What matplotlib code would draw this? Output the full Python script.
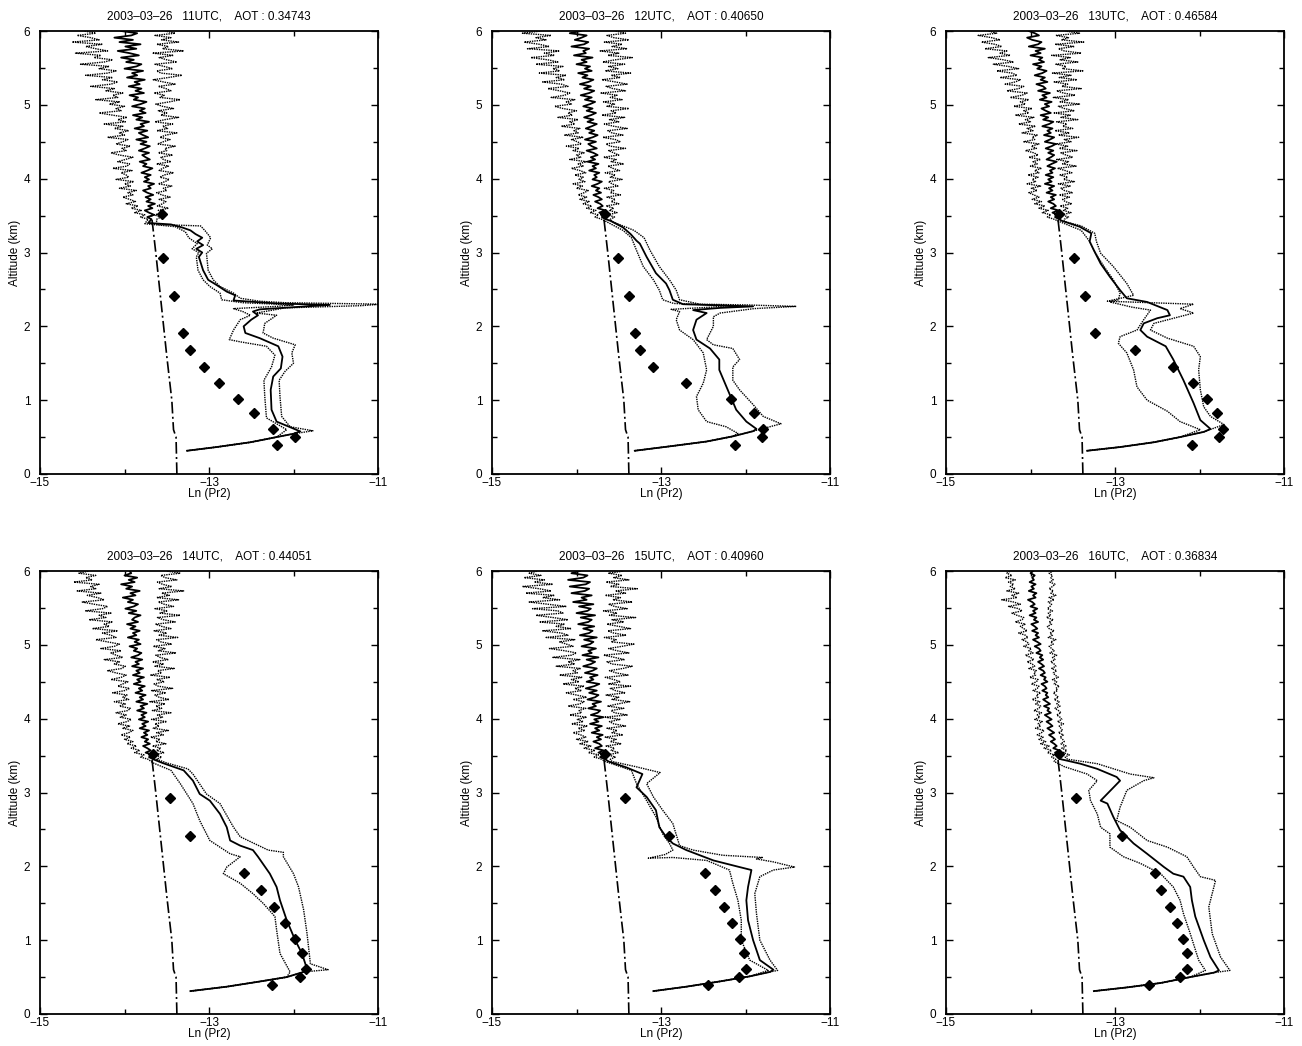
import numpy as np
import matplotlib
matplotlib.use("Agg")
import matplotlib.pyplot as plt
from matplotlib.ticker import FixedLocator, MultipleLocator

plt.rcParams['font.family'] = ['Liberation Sans', 'DejaVu Sans']

# ---------------- data ----------------
HOURS = ["11UTC", "12UTC", "13UTC", "14UTC", "15UTC", "16UTC"]
AOT = ["0.34743", "0.40650", "0.46584", "0.44051", "0.40960", "0.36834"]
DATE = "2003–03–26"

X_TICKS = [-15, -13, -11]
Y_TICKS = [0, 1, 2, 3, 4, 5, 6]

# molecular (Rayleigh) profile, dash-dot
MOL_Z = [0.0, 0.5, 0.6, 1.0, 1.6, 3.0, 3.5]
MOL_X = [-13.38, -13.39, -13.42, -13.44, -13.50, -13.63, -13.68]

# diamonds
DIAMOND_Z = [0.39, 0.50, 0.61, 0.82, 1.02, 1.23, 1.45, 1.68, 1.91, 2.41, 2.93, 3.52]
P1_DIAM = [-12.20, -11.98, -12.24, -12.47, -12.66, -12.88, -13.06, -13.22, -13.31, -13.41, -13.55, -13.56]
P2_DIAM = [-12.12, -11.81, -11.79, -11.90, -12.17, -12.70, -13.09, -13.25, -13.31, -13.38, -13.51, -13.66]
P3_DIAM = [-12.09, -11.77, -11.72, -11.79, -11.91, -12.08, -12.31, -12.76, -13.24, -13.36, -13.49, -13.66]
P4_DIAM = [-12.26, -11.92, -11.85, -11.90, -11.98, -12.10, -12.23, -12.38, -12.58, -13.23, -13.46, -13.66]
P5_DIAM = [-12.44, -12.08, -12.00, -12.02, -12.07, -12.16, -12.26, -12.36, -12.48, -12.90, -13.43, -13.66]
P6_DIAM = [-12.60, -12.23, -12.15, -12.15, -12.19, -12.27, -12.35, -12.45, -12.53, -12.92, -13.46, -13.66]

# near-ground overlap tail (alt, Ln Pr2)
P1_TAIL = [(0.315, -13.26), (0.365, -12.91), (0.43, -12.51), (0.50, -12.20), (0.545, -12.00)]
P2_TAIL = [(0.315, -13.31), (0.38, -12.86), (0.44, -12.46), (0.51, -12.15), (0.58, -11.91)]
P3_TAIL = [(0.315, -13.33), (0.365, -12.94), (0.43, -12.54), (0.50, -12.23), (0.57, -11.95)]
P4_TAIL = [(0.31, -13.22), (0.37, -12.79), (0.44, -12.40), (0.50, -12.08), (0.57, -11.88)]
P5_TAIL = [(0.31, -13.09), (0.37, -12.70), (0.44, -12.31), (0.51, -11.95), (0.57, -11.71)]
P6_TAIL = [(0.31, -13.25), (0.36, -12.86), (0.42, -12.46), (0.50, -12.11), (0.56, -11.83)]

# lower part (alt, Ln Pr2): C = mean (solid), L / R = dotted envelope
P1_C_LOW = [(0.577, -11.92), (0.71, -12.20), (0.87, -12.26), (1.14, -12.27), (1.32, -12.24), (1.43, -12.15),
            (1.59, -12.13), (1.73, -12.18), (1.84, -12.40), (1.91, -12.57), (2.00, -12.59), (2.09, -12.50),
            (2.15, -12.42), (2.20, -12.48), (2.23, -12.40), (2.27, -11.85), (2.29, -11.57), (2.31, -12.20),
            (2.35, -12.71), (2.42, -12.69), (2.47, -12.79), (2.56, -12.91), (2.63, -13.01), (2.76, -13.07),
            (2.94, -13.12), (3.00, -13.08), (3.05, -13.15), (3.10, -13.07), (3.15, -13.14), (3.20, -13.08),
            (3.25, -13.16), (3.30, -13.22), (3.34, -13.32), (3.38, -13.45), (3.40, -13.72)]
P1_L_LOW = [(0.60, -12.08), (0.76, -12.32), (1.05, -12.34), (1.27, -12.35), (1.45, -12.26), (1.61, -12.22),
            (1.73, -12.32), (1.79, -12.63), (1.82, -12.76), (1.95, -12.71), (2.09, -12.63), (2.15, -12.51),
            (2.20, -12.60), (2.24, -12.71), (2.27, -12.20), (2.29, -12.00), (2.32, -12.60), (2.36, -12.85),
            (2.45, -12.87), (2.54, -12.99), (2.63, -13.07), (2.76, -13.13), (2.94, -13.15), (3.00, -13.12),
            (3.05, -13.20), (3.12, -13.14), (3.20, -13.24), (3.28, -13.28), (3.35, -13.40), (3.39, -13.76)]
P1_R_LOW = [(0.585, -11.77), (0.64, -12.04), (0.78, -12.14), (1.05, -12.16), (1.27, -12.17), (1.39, -12.10),
            (1.50, -12.00), (1.64, -12.02), (1.75, -11.98), (1.84, -12.24), (1.91, -12.36), (2.04, -12.34),
            (2.15, -12.20), (2.18, -12.44), (2.25, -12.10), (2.28, -11.20), (2.30, -10.95), (2.32, -12.10),
            (2.34, -12.40), (2.38, -12.63), (2.45, -12.71), (2.54, -12.87), (2.63, -12.95), (2.76, -13.01),
            (2.99, -13.03), (3.05, -12.96), (3.10, -13.02), (3.20, -12.98), (3.30, -13.05), (3.36, -13.10),
            (3.38, -13.62)]

P2_C_LOW = [(0.61, -11.87), (0.71, -11.99), (0.87, -12.11), (1.14, -12.21), (1.41, -12.31), (1.55, -12.31),
            (1.70, -12.42), (1.82, -12.58), (1.95, -12.62), (2.09, -12.58), (2.18, -12.46), (2.22, -12.62),
            (2.25, -12.30), (2.27, -11.91), (2.30, -12.74), (2.36, -12.86), (2.49, -12.90), (2.58, -12.94),
            (2.72, -13.06), (2.94, -13.17), (3.12, -13.25), (3.16, -13.29), (3.25, -13.36), (3.34, -13.45),
            (3.43, -13.60)]
P2_L_LOW = [(0.55, -12.09), (0.64, -12.23), (0.71, -12.46), (0.87, -12.56), (1.05, -12.58), (1.23, -12.50),
            (1.41, -12.46), (1.64, -12.50), (1.82, -12.62), (1.95, -12.78), (2.09, -12.82), (2.20, -12.78),
            (2.23, -12.88), (2.26, -12.40), (2.28, -12.20), (2.31, -12.85), (2.36, -12.98), (2.49, -13.02),
            (2.63, -13.09), (2.81, -13.21), (3.03, -13.29), (3.20, -13.35), (3.30, -13.45), (3.42, -13.65)]
P2_R_LOW = [(0.68, -11.58), (0.78, -11.79), (0.94, -11.91), (1.14, -12.07), (1.27, -12.15), (1.45, -12.15),
            (1.55, -12.07), (1.70, -12.15), (1.75, -12.38), (1.82, -12.46), (2.00, -12.38), (2.13, -12.38),
            (2.18, -12.30), (2.24, -11.90), (2.27, -11.40), (2.29, -12.00), (2.30, -12.54), (2.36, -12.78),
            (2.49, -12.82), (2.63, -12.90), (2.81, -13.02), (3.03, -13.13), (3.20, -13.20), (3.30, -13.32),
            (3.42, -13.58)]

P3_C_LOW = [(0.61, -11.87), (0.73, -11.99), (0.96, -12.07), (1.27, -12.19), (1.55, -12.31), (1.73, -12.40),
            (1.86, -12.62), (1.95, -12.70), (2.04, -12.66), (2.11, -12.50), (2.15, -12.35), (2.22, -12.38),
            (2.33, -12.62), (2.38, -12.86), (2.49, -12.94), (2.67, -13.06), (2.85, -13.17), (3.03, -13.25),
            (3.15, -13.30), (3.26, -13.28), (3.35, -13.42), (3.43, -13.63)]
P3_L_LOW = [(0.60, -11.99), (0.71, -12.23), (0.85, -12.38), (1.00, -12.62), (1.18, -12.74), (1.41, -12.78),
            (1.64, -12.86), (1.77, -12.96), (1.86, -12.94), (1.95, -12.74), (2.09, -12.66), (2.22, -12.58),
            (2.26, -12.80), (2.33, -13.06), (2.36, -12.96), (2.45, -12.94), (2.63, -13.02), (2.81, -13.13),
            (2.99, -13.23), (3.15, -13.30), (3.30, -13.40), (3.42, -13.66)]
P3_R_LOW = [(0.67, -11.71), (0.78, -11.87), (0.91, -11.95), (1.14, -11.99), (1.41, -12.01), (1.59, -11.99),
            (1.73, -12.07), (1.84, -12.38), (1.95, -12.58), (2.04, -12.54), (2.18, -12.07), (2.24, -12.23),
            (2.30, -12.07), (2.34, -13.09), (2.42, -12.78), (2.58, -12.86), (2.81, -13.02), (2.99, -13.17),
            (3.15, -13.22), (3.26, -13.24), (3.36, -13.40), (3.42, -13.60)]

P4_C_LOW = [(0.61, -11.84), (0.82, -11.90), (1.00, -11.98), (1.27, -12.08), (1.54, -12.16), (1.72, -12.20),
            (1.90, -12.28), (2.13, -12.42), (2.22, -12.48), (2.28, -12.63), (2.35, -12.75), (2.53, -12.79),
            (2.71, -12.87), (2.89, -12.99), (2.98, -13.11), (3.16, -13.19), (3.30, -13.30), (3.40, -13.55)]
P4_L_LOW = [(0.57, -12.04), (0.82, -12.16), (1.14, -12.20), (1.32, -12.22), (1.50, -12.36), (1.63, -12.48),
            (1.77, -12.63), (1.90, -12.83), (1.99, -12.79), (2.13, -12.63), (2.17, -12.75), (2.35, -12.99),
            (2.62, -13.11), (2.85, -13.19), (3.12, -13.34), (3.30, -13.45), (3.40, -13.66)]
P4_R_LOW = [(0.60, -11.59), (0.68, -11.80), (1.09, -11.84), (1.41, -11.88), (1.72, -11.94), (1.90, -12.00),
            (2.13, -12.12), (2.19, -12.12), (2.22, -12.30), (2.40, -12.63), (2.53, -12.71), (2.85, -12.87),
            (2.98, -13.03), (3.25, -13.19), (3.32, -13.25), (3.40, -13.50)]

P5_C_LOW = [(0.60, -11.67), (0.73, -11.83), (1.00, -11.91), (1.27, -11.97), (1.54, -11.99), (1.72, -11.97),
            (1.95, -11.93), (1.99, -12.07), (2.08, -12.38), (2.22, -12.70), (2.31, -12.86), (2.40, -12.94),
            (2.53, -13.02), (2.76, -13.06), (2.94, -13.17), (3.07, -13.29), (3.25, -13.22), (3.34, -13.41),
            (3.42, -13.62)]
P5_L_LOW = [(0.59, -11.73), (0.73, -11.95), (1.00, -12.05), (1.27, -12.05), (1.54, -12.09), (1.77, -12.15),
            (1.95, -12.19), (2.08, -12.46), (2.12, -12.86), (2.11, -13.15), (2.16, -12.95), (2.22, -12.86),
            (2.31, -12.90), (2.44, -12.98), (2.67, -13.06), (2.89, -13.17), (3.12, -13.29), (3.30, -13.35),
            (3.42, -13.66)]
P5_R_LOW = [(0.59, -11.62), (0.73, -11.71), (1.00, -11.83), (1.36, -11.87), (1.63, -11.89), (1.86, -11.83),
            (1.95, -11.67), (1.99, -11.42), (2.06, -11.67), (2.10, -11.87), (2.12, -11.80), (2.15, -12.27),
            (2.22, -12.62), (2.28, -12.78), (2.58, -12.86), (2.76, -12.98), (2.94, -13.09), (3.12, -13.17),
            (3.27, -13.01), (3.35, -13.30), (3.42, -13.58)]

P6_C_LOW = [(0.59, -11.77), (0.77, -11.87), (1.00, -11.95), (1.32, -12.05), (1.54, -12.09), (1.72, -12.11),
            (1.86, -12.19), (1.90, -12.31), (1.99, -12.42), (2.17, -12.62), (2.31, -12.78), (2.49, -12.94),
            (2.67, -13.02), (2.85, -13.09), (2.89, -13.17), (3.16, -12.94), (3.21, -12.98), (3.32, -13.21),
            (3.39, -13.41), (3.44, -13.60)]
P6_L_LOW = [(0.59, -11.93), (0.73, -12.01), (1.09, -12.11), (1.36, -12.19), (1.54, -12.23), (1.72, -12.31),
            (1.90, -12.46), (2.04, -12.70), (2.13, -12.90), (2.26, -13.06), (2.44, -13.06), (2.53, -13.17),
            (2.71, -13.21), (2.89, -13.29), (3.03, -13.31), (3.16, -13.21), (3.25, -13.33), (3.35, -13.60),
            (3.42, -13.72)]
P6_R_LOW = [(0.59, -11.64), (0.77, -11.75), (1.09, -11.85), (1.45, -11.89), (1.63, -11.85), (1.81, -11.81),
            (1.86, -11.99), (1.99, -12.07), (2.13, -12.15), (2.26, -12.38), (2.35, -12.62), (2.53, -12.82),
            (2.62, -12.98), (2.80, -12.94), (3.03, -12.86), (3.16, -12.66), (3.20, -12.54), (3.25, -12.82),
            (3.39, -13.21), (3.44, -13.50)]

# noisy upper part, sampled every 0.03 km from 3.45 to 6.00 km.
# values are Ln(Pr2) + 14, in hundredths
ALT_UP = np.round(3.45 + 0.03 * np.arange(86), 3)

P1_C_UP = [32, 27, 35, 29, 24, 33, 28, 36, 26, 31,
           25, 34, 27, 22, 31, 28, 35, 23, 29, 24,
           31, 20, 27, 33, 22, 26, 18, 30, 25, 21,
           29, 17, 24, 30, 19, 26, 14, 28, 22, 17,
           27, 12, 23, 19, 29, 14, 21, 10, 25, 18,
           24, 9, 19, 26, 11, 16, 6, 23, 13, 20,
           5, 18, 12, 24, 3, 15, 9, 22, 0, 14,
           20, 2, 11, -4, 17, 6, -8, 14, 1, 19,
           -6, 10, -12, 8, 15, -4]
P1_L_UP = [28, 19, 24, 12, 20, 8, 16, 2, 13, 6,
           -2, 10, 4, 14, -6, 7, 0, 11, -10, 5,
           2, -4, 9, -14, 3, 6, -8, 1, 10, -6,
           -16, 2, -3, 7, -10, -2, 4, -20, 0, -6,
           5, -12, -2, -24, 1, -8, 3, -14, -30, -4,
           -10, 0, -18, -6, -34, -8, -14, -2, -22, -12,
           -40, -16, -8, -26, -14, -46, -20, -10, -30, -18,
           -52, -24, -14, -36, -28, -58, -20, -34, -46, -26,
           -62, -30, -40, -56, -34, -48]
P1_R_UP = [38, 43, 35, 47, 40, 52, 39, 45, 49, 41,
           54, 44, 38, 50, 46, 56, 40, 48, 53, 42,
           47, 58, 41, 45, 52, 38, 55, 46, 43, 57,
           40, 50, 48, 60, 39, 46, 54, 42, 49, 62,
           38, 51, 45, 57, 36, 48, 64, 43, 50, 40,
           58, 45, 37, 53, 66, 42, 47, 35, 55, 49,
           40, 60, 46, 34, 52, 68, 43, 38, 57, 47,
           36, 62, 50, 41, 58, 33, 70, 45, 52, 38,
           64, 44, 55, 36, 60, 48]

P2_C_UP = [35, 30, 33, 27, 34, 25, 31, 28, 22, 30,
           26, 20, 29, 23, 27, 18, 25, 30, 19, 24,
           21, 27, 15, 23, 19, 26, 13, 22, 17, 25,
           20, 12, 24, 18, 14, 23, 10, 19, 25, 15,
           21, 11, 18, 24, 13, 20, 9, 17, 23, 12,
           19, 8, 16, 22, 10, 18, 5, 15, 21, 9,
           17, 4, 14, 20, 7, 13, 2, 18, 10, 16,
           0, 12, 6, 19, -3, 11, 8, 15, -6, 9,
           14, -2, 6, 12, -8, 5]
P2_L_UP = [30, 22, 26, 16, 23, 12, 18, 8, 15, 4,
           12, 2, 9, 14, 0, 7, -4, 10, 3, 8,
           -2, 11, 4, -6, 8, 2, 12, -8, 5, 0,
           9, -4, 3, -12, 6, 1, -6, 8, -14, 2,
           -3, 4, -18, -2, -8, 2, -22, -5, -10, 0,
           -16, -26, -6, -12, -2, -30, -14, -8, -20, -34,
           -10, -18, -40, -14, -24, -12, -44, -20, -28, -16,
           -48, -22, -34, -54, -26, -38, -20, -58, -32, -44,
           -62, -36, -48, -30, -64, -42]
P2_R_UP = [40, 45, 37, 48, 39, 44, 35, 50, 41, 46,
           36, 52, 40, 44, 33, 49, 42, 38, 54, 40,
           46, 34, 51, 43, 37, 56, 41, 47, 32, 50,
           44, 38, 58, 40, 35, 52, 46, 31, 55, 42,
           37, 60, 44, 33, 50, 39, 57, 30, 47, 41,
           62, 36, 45, 32, 54, 40, 48, 29, 58, 43,
           35, 60, 46, 30, 52, 41, 64, 34, 49, 38,
           57, 31, 46, 66, 37, 50, 28, 60, 42, 54,
           33, 62, 44, 36, 58, 46]

P3_C_UP = [34, 29, 32, 26, 33, 24, 30, 27, 21, 28,
           24, 30, 19, 26, 22, 28, 17, 25, 21, 27,
           18, 26, 23, 29, 20, 25, 31, 19, 24, 28,
           21, 27, 18, 25, 30, 17, 23, 28, 16, 24,
           20, 26, 14, 22, 27, 15, 21, 12, 24, 18,
           13, 22, 17, 25, 11, 19, 14, 23, 9, 18,
           15, 7, 20, 12, 17, 5, 14, 19, 8, 13,
           3, 16, 10, 14, 0, 12, 6, 17, -2, 9,
           13, 2, -4, 10, 5, -2]
P3_L_UP = [28, 20, 24, 14, 21, 10, 17, 5, 13, 2,
           10, 4, -2, 8, 1, 12, -4, 6, 2, 9,
           -3, 10, 5, 13, 0, 8, 3, 12, -2, 9,
           4, -6, 7, 1, 10, -8, 5, 2, 8, -10,
           3, -4, 6, -14, 0, -6, 4, -18, -2, -8,
           2, -20, -6, -12, -2, -24, -10, -4, -28, -14,
           -8, -30, -18, -12, -36, -16, -22, -40, -14, -26,
           -44, -20, -32, -50, -24, -36, -28, -54, -34, -42,
           -58, -36, -46, -62, -40, -50]
P3_R_UP = [40, 45, 37, 48, 39, 44, 35, 49, 41, 38,
           46, 34, 50, 40, 36, 47, 33, 52, 39, 44,
           35, 49, 41, 32, 54, 38, 45, 31, 50, 42,
           36, 55, 34, 44, 30, 48, 40, 57, 33, 46,
           29, 50, 38, 43, 31, 56, 36, 47, 28, 52,
           40, 33, 58, 35, 45, 27, 53, 39, 31, 60,
           37, 44, 28, 55, 34, 48, 26, 62, 38, 42,
           30, 56, 35, 47, 25, 60, 40, 33, 52, 29,
           63, 37, 45, 30, 58, 41]

P4_C_UP = [34, 29, 33, 25, 31, 27, 22, 30, 24, 28,
           20, 27, 23, 29, 18, 25, 21, 28, 17, 24,
           20, 26, 15, 23, 19, 27, 14, 22, 18, 25,
           13, 21, 17, 24, 11, 19, 15, 23, 10, 18,
           14, 22, 9, 17, 13, 21, 8, 16, 20, 11,
           15, 6, 19, 12, 17, 4, 14, 10, 18, 7,
           13, 3, 16, 9, 12, 19, 5, 14, 1, 11,
           16, 4, 10, -2, 13, 7, 18, 2, 9, -4,
           12, 5, 15, 0, 8, 6]
P4_L_UP = [28, 19, 23, 12, 18, 8, 14, 3, 10, 0,
           7, -4, 5, 10, -2, 6, -8, 3, 8, -5,
           2, -10, 4, 7, -6, 1, -12, 5, -2, 3,
           -14, 0, 6, -8, -2, 4, -16, -4, 2, -10,
           -20, -3, 1, -12, -6, -24, -2, -10, -16, -4,
           -28, -12, -6, -20, -34, -10, -16, -26, -8, -38,
           -18, -24, -14, -42, -22, -30, -16, -46, -26, -20,
           -36, -50, -24, -32, -44, -28, -56, -34, -40, -30,
           -60, -38, -46, -34, -54, -42]
P4_R_UP = [38, 44, 35, 47, 38, 43, 33, 49, 37, 42,
           31, 46, 38, 52, 34, 41, 36, 50, 32, 45,
           39, 55, 33, 44, 37, 48, 30, 53, 41, 36,
           49, 32, 57, 40, 35, 47, 38, 54, 31, 44,
           39, 59, 36, 46, 33, 52, 42, 37, 61, 40,
           48, 34, 56, 43, 38, 63, 41, 50, 35, 55,
           44, 37, 60, 46, 39, 66, 42, 51, 36, 58,
           47, 40, 64, 38, 53, 44, 70, 41, 56, 45,
           39, 62, 48, 43, 66, 50]

P5_C_UP = [34, 28, 35, 26, 32, 22, 30, 27, 20, 29,
           24, 31, 18, 27, 22, 30, 16, 26, 21, 32,
           17, 25, 28, 14, 23, 19, 29, 13, 22, 26,
           15, 24, 11, 21, 27, 12, 20, 16, 25, 10,
           19, 24, 8, 17, 22, 12, 26, 7, 18, 14,
           23, 6, 16, 20, 9, 24, 4, 15, 19, 8,
           21, 2, 14, 18, 5, 22, 0, 13, 17, 3,
           20, -4, 12, 6, 18, -6, 10, 15, -8, 11,
           16, -10, 8, 13, -6, 4]
P5_L_UP = [30, 21, 26, 14, 22, 9, 17, 4, 14, 0,
           11, 5, -4, 10, 2, 13, -6, 8, 1, 12,
           -8, 6, 3, 11, -10, 4, 9, -4, 12, 0,
           -12, 6, -2, 9, -16, 3, -6, 7, -20, 1,
           -4, 5, -24, -2, -10, 4, -28, -6, 0, -14,
           -32, -4, -12, -20, -2, -36, -10, -18, -40, -6,
           -24, -14, -44, -10, -28, -48, -16, -22, -52, -12,
           -34, -56, -20, -40, -26, -60, -30, -44, -64, -28,
           -50, -38, -62, -42, -56, -46]
P5_R_UP = [40, 46, 37, 50, 41, 45, 35, 53, 40, 47,
           34, 55, 42, 48, 36, 58, 44, 39, 52, 33,
           60, 45, 41, 56, 37, 49, 63, 42, 50, 35,
           58, 46, 40, 64, 38, 52, 44, 34, 61, 47,
           39, 55, 66, 42, 36, 57, 45, 32, 62, 48,
           38, 54, 68, 41, 47, 33, 59, 44, 37, 64,
           50, 36, 56, 42, 70, 39, 48, 32, 60, 45,
           38, 66, 43, 52, 34, 58, 46, 72, 40, 50,
           35, 62, 44, 54, 38, 56]

P6_C_UP = [36, 32, 35, 29, 34, 27, 31, 28, 24, 29,
           26, 22, 28, 24, 20, 26, 23, 19, 25, 21,
           17, 24, 20, 22, 16, 23, 19, 15, 21, 18,
           20, 14, 19, 17, 13, 20, 16, 18, 12, 17,
           15, 10, 16, 13, 9, 15, 11, 14, 7, 12,
           10, 5, 12, 8, 3, 10, 6, 9, 2, 8,
           5, 1, 9, 4, 7, -1, 6, 3, 8, 0,
           5, 2, -3, 6, 3, 7, -2, 4, 1, 6,
           -1, 4, 2, 5, 0, 3]
P6_L_UP = [30, 25, 28, 20, 25, 16, 22, 12, 18, 10,
           15, 8, 13, 16, 6, 12, 9, 14, 5, 11,
           8, 13, 4, 10, 12, 6, 11, 2, 9, 7,
           12, 3, 8, 10, 1, 7, 9, -1, 6, 4,
           7, -2, 5, 2, -4, 4, 0, -6, 3, -2,
           1, -8, -2, -4, -10, -3, -6, -14, -4, -8,
           -12, -6, -18, -10, -8, -16, -22, -10, -14, -26,
           -12, -20, -34, -16, -22, -14, -28, -18, -24, -20,
           -26, -18, -30, -22, -28, -24]
P6_R_UP = [44, 41, 46, 39, 43, 37, 42, 36, 40, 38,
           35, 39, 33, 38, 36, 34, 39, 32, 37, 35,
           31, 36, 33, 29, 35, 31, 34, 28, 33, 30,
           27, 32, 30, 34, 28, 31, 26, 33, 29, 27,
           31, 25, 30, 28, 24, 29, 26, 31, 23, 28,
           25, 22, 27, 24, 30, 21, 26, 23, 28, 22,
           20, 25, 22, 27, 19, 24, 21, 26, 20, 23,
           25, 21, 28, 22, 30, 24, 27, 22, 26, 29,
           23, 27, 24, 26, 22, 27]

PANELS = [
    (P1_TAIL, P1_C_LOW, P1_L_LOW, P1_R_LOW, P1_C_UP, P1_L_UP, P1_R_UP, P1_DIAM),
    (P2_TAIL, P2_C_LOW, P2_L_LOW, P2_R_LOW, P2_C_UP, P2_L_UP, P2_R_UP, P2_DIAM),
    (P3_TAIL, P3_C_LOW, P3_L_LOW, P3_R_LOW, P3_C_UP, P3_L_UP, P3_R_UP, P3_DIAM),
    (P4_TAIL, P4_C_LOW, P4_L_LOW, P4_R_LOW, P4_C_UP, P4_L_UP, P4_R_UP, P4_DIAM),
    (P5_TAIL, P5_C_LOW, P5_L_LOW, P5_R_LOW, P5_C_UP, P5_L_UP, P5_R_UP, P5_DIAM),
    (P6_TAIL, P6_C_LOW, P6_L_LOW, P6_R_LOW, P6_C_UP, P6_L_UP, P6_R_UP, P6_DIAM),
]


def build(tail, low, up):
    n = min(len(up), len(ALT_UP))
    z = [p[0] for p in tail] + [p[0] for p in low] + list(ALT_UP[:n])
    x = [p[1] for p in tail] + [p[1] for p in low] + list(np.asarray(up[:n]) / 100.0 - 14.0)
    return x, z


# ---------------- figure ----------------
W, H = 1302, 1046
fig = plt.figure(figsize=(W / 100, H / 100), dpi=100)

lefts = [40, 492, 946]
tops = [31, 571]
aw, ah = 338, 443

for k, (tail, c_low, l_low, r_low, c_up, l_up, r_up, diam) in enumerate(PANELS):
    row, col = divmod(k, 3)
    left = lefts[col] / W
    bottom = (H - tops[row] - ah) / H
    ax = fig.add_axes([left, bottom, aw / W, ah / H])

    ax.plot(MOL_X, MOL_Z, color='black', lw=1.2, ls=(0, (7, 2, 1.2, 2)), zorder=2)

    xl, zl = build(tail[:4], l_low, l_up)
    xr, zr = build(tail, r_low, r_up)
    xc, zc = build(tail, c_low, c_up)
    ax.plot(xl, zl, color='black', lw=1.0, ls=(0, (1, 0.7)), zorder=3)
    ax.plot(xr, zr, color='black', lw=1.0, ls=(0, (1, 0.7)), zorder=3)
    ax.plot(xc, zc, color='black', lw=1.3, zorder=4)

    ax.plot(diam, DIAMOND_Z, ls='none', marker='D', ms=5.2, color='black', zorder=5)

    ax.set_xlim(-15, -11)
    ax.set_ylim(0, 6)
    ax.xaxis.set_major_locator(FixedLocator(X_TICKS))
    ax.xaxis.set_minor_locator(FixedLocator([-14, -12]))
    ax.yaxis.set_major_locator(FixedLocator(Y_TICKS))
    ax.yaxis.set_minor_locator(MultipleLocator(0.5))
    ax.tick_params(which='both', direction='in', top=True, right=True, width=1.0)
    ax.tick_params(axis='x', labelsize=8.5, pad=2.5)
    ax.tick_params(axis='y', labelsize=8.5, pad=7)
    ax.tick_params(which='major', length=5)
    ax.tick_params(which='minor', length=3.5)
    for s in ax.spines.values():
        s.set_linewidth(1.3)

    ax.set_title(f"{DATE}   {HOURS[k]},    AOT : {AOT[k]}", fontsize=8.5, pad=8.5)
    ax.set_xlabel("Ln (Pr2)", fontsize=8.5, labelpad=-1)
    ax.set_ylabel("Altitude (km)", fontsize=8.5, labelpad=2)

fig.savefig("out.png", dpi=100)
